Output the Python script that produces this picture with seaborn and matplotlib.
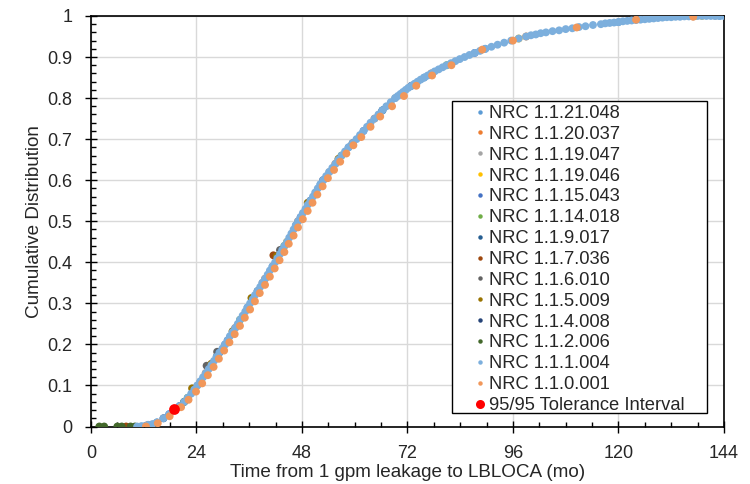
import pandas as pd
import matplotlib.pyplot as plt
import seaborn as sns
from matplotlib.lines import Line2D
from matplotlib.patches import Rectangle
from matplotlib.ticker import MultipleLocator, FuncFormatter

sns.set_theme(style="white")
plt.rcParams['font.family'] = ['Liberation Sans', 'DejaVu Sans']

# --- data (time in months, cumulative fraction) ---
# NRC 1.1.1.004 (light blue, dense, drawn near the top)
x_1_1_1_004 = [10.5, 11.5, 12.5, 13.0, 14.0, 15.0, 16.5, 17.8, 19.0, 20.2, 21.2, 22.0, 22.8, 23.5, 24.2,
               24.9, 25.5, 26.1, 26.8, 27.4, 28.0, 28.6, 29.2, 29.9, 30.5,
               31.1, 31.6, 32.2, 32.8, 33.4, 33.9, 34.5, 35.1, 35.6, 36.2,
               36.8, 37.3, 37.9, 38.5, 39.0, 39.6, 40.2, 40.7, 41.3, 41.9,
               42.4, 43.0, 43.5, 44.0, 44.6, 45.1, 45.6, 46.1, 46.6, 47.1,
               47.7, 48.2, 48.8, 49.3, 49.9, 50.5, 51.0, 51.6, 52.2, 52.8,
               53.5, 54.2, 54.9, 55.6, 56.3, 57.0, 57.8, 58.6, 59.5, 60.4,
               61.2, 62.0, 62.8, 63.6, 64.5, 65.4, 66.3, 67.2, 68.2, 69.2,
               69.8, 70.4, 71.0, 71.6, 72.2, 72.9, 73.6, 74.3, 75.0, 75.8,
               76.6, 77.4, 78.2, 79.1, 80.0, 80.9, 81.9, 82.9, 83.9, 85.0,
               86.1, 87.3, 88.5, 89.7, 91.1, 92.5, 94.0, 95.6, 97.3, 99.0,
               100.1, 101.2, 102.3, 103.5, 105.0, 106.5, 108.0, 109.5, 111.0, 112.5,
               114.2, 116.0, 117.0, 118.0, 119.0, 120.0, 121.0, 122.0, 123.0, 124.0,
               125.0, 126.0, 127.0, 128.0, 129.0, 130.0, 131.0, 132.0, 133.0, 134.0,
               135.0, 136.0, 137.0, 138.0, 139.0, 140.0, 141.0, 142.0, 143.0, 144.0]
y_1_1_1_004 = [0.0, 0.001, 0.002, 0.004, 0.006, 0.01, 0.02, 0.03, 0.04, 0.05, 0.06, 0.07, 0.08, 0.09, 0.10,
               0.11, 0.12, 0.13, 0.14, 0.15, 0.16, 0.17, 0.18, 0.19, 0.20,
               0.21, 0.22, 0.23, 0.24, 0.25, 0.26, 0.27, 0.28, 0.29, 0.30,
               0.31, 0.32, 0.33, 0.34, 0.35, 0.36, 0.37, 0.38, 0.39, 0.40,
               0.41, 0.42, 0.43, 0.44, 0.45, 0.46, 0.47, 0.48, 0.49, 0.50,
               0.51, 0.52, 0.53, 0.54, 0.55, 0.56, 0.57, 0.58, 0.59, 0.60,
               0.61, 0.62, 0.63, 0.64, 0.65, 0.66, 0.67, 0.68, 0.69, 0.70,
               0.71, 0.72, 0.73, 0.74, 0.75, 0.76, 0.77, 0.78, 0.79, 0.80,
               0.805, 0.81, 0.815, 0.82, 0.825, 0.83, 0.835, 0.84, 0.845, 0.85,
               0.855, 0.86, 0.865, 0.87, 0.875, 0.88, 0.885, 0.89, 0.895, 0.90,
               0.905, 0.91, 0.915, 0.92, 0.925, 0.93, 0.935, 0.94, 0.945, 0.95,
               0.953, 0.955, 0.958, 0.96, 0.963, 0.965, 0.968, 0.97, 0.973, 0.975,
               0.978, 0.98, 0.982, 0.983, 0.984, 0.985, 0.987, 0.988, 0.989, 0.99,
               0.991, 0.992, 0.993, 0.994, 0.995, 0.996, 0.997, 0.997, 0.998, 0.998,
               0.999, 0.999, 0.999, 1.0, 1.0, 1.0, 1.0, 1.0, 1.0, 1.0]

# NRC 1.1.0.001 (light orange, drawn last)
x_1_1_0_001 = [12.5, 15.2, 17.9, 20.5, 22.2, 23.9, 25.3, 26.6, 27.9, 29.1, 30.3, 31.5, 32.7, 33.9,
               35.0, 36.2, 37.3, 38.4, 39.6, 40.7, 41.8, 42.9, 44.0, 45.0, 46.1, 47.1, 48.2, 49.3,
               50.4, 51.5, 52.7, 53.9, 55.3, 56.7, 58.1, 59.7, 61.5, 63.6, 65.8, 68.5, 71.2, 74.0,
               77.6, 82.0, 89.0, 96.0, 110.5, 124.0, 137.0]
y_1_1_0_001 = [0.0, 0.008, 0.025, 0.047, 0.065, 0.085, 0.105, 0.125, 0.145, 0.165, 0.185, 0.205, 0.225, 0.245,
               0.265, 0.285, 0.305, 0.325, 0.345, 0.365, 0.385, 0.405, 0.425, 0.445, 0.465, 0.485, 0.505, 0.525,
               0.545, 0.565, 0.585, 0.605, 0.625, 0.645, 0.665, 0.685, 0.705, 0.73, 0.755, 0.78, 0.805, 0.83,
               0.855, 0.88, 0.918, 0.94, 0.972, 0.991, 0.998]

# the other code versions, almost all hidden under the two above
x_1_1_21_048 = [15.0, 21.2, 24.9, 30.5, 35.6, 41.3, 46.6, 52.2, 58.6, 66.3, 75.8, 89.7, 120.0, 143.0]
y_1_1_21_048 = [0.01, 0.06, 0.11, 0.20, 0.29, 0.39, 0.49, 0.59, 0.68, 0.77, 0.85, 0.92, 0.985, 1.0]
x_1_1_20_037 = [13.0, 19.0, 26.1, 32.8, 39.6, 47.1, 55.6, 64.5, 77.4, 99.0]
y_1_1_20_037 = [0.004, 0.04, 0.13, 0.24, 0.36, 0.50, 0.64, 0.75, 0.86, 0.95]
x_1_1_19_047 = [24.2, 39.0, 54.2, 69.2, 142.0]
y_1_1_19_047 = [0.10, 0.35, 0.62, 0.80, 1.0]
x_1_1_19_046 = [44.6, 97.3, 132.0, 136.0, 137.5, 139.0]
y_1_1_19_046 = [0.45, 0.945, 0.999, 1.0, 1.0, 1.0]
x_1_1_15_043 = [17.8, 31.1, 47.7, 62.0, 87.3]
y_1_1_15_043 = [0.03, 0.21, 0.51, 0.72, 0.91]
x_1_1_14_018 = [22.0, 33.9, 44.0, 57.0, 80.9]
y_1_1_14_018 = [0.07, 0.26, 0.44, 0.66, 0.88]
x_1_1_9_017 = [20.2, 28.6, 37.9, 49.9, 66.3]
y_1_1_9_017 = [0.05, 0.17, 0.33, 0.55, 0.77]
x_1_1_7_036 = [8.0, 41.5, 130.0]
y_1_1_7_036 = [0.0, 0.417, 0.998]
x_1_1_6_010 = [26.3, 28.7, 43.0, 59.5]
y_1_1_6_010 = [0.148, 0.182, 0.43, 0.69]
x_1_1_5_009 = [23.0, 27.4, 32.2, 36.5, 42.3, 49.3, 56.3]
y_1_1_5_009 = [0.093, 0.153, 0.232, 0.313, 0.415, 0.545, 0.652]
x_1_1_4_008 = [16.5, 29.2, 52.8, 72.9]
y_1_1_4_008 = [0.02, 0.18, 0.60, 0.83]
x_1_1_2_006 = [1.9, 3.0, 6.0, 7.0, 9.0, 10.0, 21.2, 36.8]
y_1_1_2_006 = [0.0, 0.0, 0.0, 0.0, 0.0, 0.0, 0.06, 0.31]

x_tolerance = [19.0]
y_tolerance = [0.042]

series_names = ['NRC 1.1.21.048', 'NRC 1.1.20.037', 'NRC 1.1.19.047', 'NRC 1.1.19.046',
                'NRC 1.1.15.043', 'NRC 1.1.14.018', 'NRC 1.1.9.017', 'NRC 1.1.7.036',
                'NRC 1.1.6.010', 'NRC 1.1.5.009', 'NRC 1.1.4.008', 'NRC 1.1.2.006',
                'NRC 1.1.1.004', 'NRC 1.1.0.001']
series_x = [x_1_1_21_048, x_1_1_20_037, x_1_1_19_047, x_1_1_19_046, x_1_1_15_043, x_1_1_14_018,
            x_1_1_9_017, x_1_1_7_036, x_1_1_6_010, x_1_1_5_009, x_1_1_4_008, x_1_1_2_006,
            x_1_1_1_004, x_1_1_0_001]
series_y = [y_1_1_21_048, y_1_1_20_037, y_1_1_19_047, y_1_1_19_046, y_1_1_15_043, y_1_1_14_018,
            y_1_1_9_017, y_1_1_7_036, y_1_1_6_010, y_1_1_5_009, y_1_1_4_008, y_1_1_2_006,
            y_1_1_1_004, y_1_1_0_001]
# Excel default palette for 14 series
series_colors = ['#5B9BD5', '#ED7D31', '#A5A5A5', '#FFC000', '#4472C4', '#70AD47',
                 '#255E91', '#9E480E', '#636363', '#997300', '#264478', '#43682B',
                 '#7CAFDD', '#F1975A']

frames = [pd.DataFrame({'t': xs, 'F': ys, 'series': name})
          for name, xs, ys in zip(series_names, series_x, series_y)]
df = pd.concat(frames, ignore_index=True)
palette = dict(zip(series_names, series_colors))

fig, ax = plt.subplots(figsize=(7.5, 4.84), dpi=100)
fig.subplots_adjust(left=0.1213, right=0.9653, bottom=0.1188, top=0.967)

sns.scatterplot(data=df, x='t', y='F', hue='series', hue_order=series_names, palette=palette,
                s=32, linewidth=0, ax=ax, legend=False, zorder=3)
sns.scatterplot(x=x_tolerance, y=y_tolerance, color='#FF0000', s=60, linewidth=0, ax=ax,
                legend=False, zorder=4)

ax.set_xlim(0, 144)
ax.set_ylim(0, 1)
ax.xaxis.set_major_locator(MultipleLocator(24))
ax.xaxis.set_minor_locator(MultipleLocator(6))
ax.yaxis.set_major_locator(MultipleLocator(0.1))
ax.yaxis.set_minor_locator(MultipleLocator(0.02))
ax.yaxis.set_major_formatter(FuncFormatter(lambda v, p: f"{v:.1f}".rstrip('0').rstrip('.') if v else '0'))

ax.grid(True, which='major', color='#D9D9D9', linewidth=1.0)
ax.set_axisbelow(True)
for sp in ax.spines.values():
    sp.set_color('black')
    sp.set_linewidth(1.2)
ax.tick_params(which='major', direction='inout', length=8, width=1.0, color='black',
               labelsize=13, pad=9.5)
ax.tick_params(which='minor', direction='in', length=3.5, width=1.0, color='black')
ax.tick_params(axis='x', which='both', bottom=True)
ax.tick_params(axis='y', which='both', left=True)

ax.set_xlabel('Time from 1 gpm leakage to LBLOCA (mo)', fontsize=13.6, labelpad=1)
ax.set_ylabel('Cumulative Distribution', fontsize=13.6, labelpad=3)

# legend frame drawn as its own box (Excel pads it wider than matplotlib does)
ax.add_patch(Rectangle((0.570, 0.033), 0.403, 0.760, transform=ax.transAxes,
                       facecolor='white', edgecolor='black', linewidth=1.0, zorder=5))
handles = [Line2D([], [], marker='o', linestyle='', markersize=3.2, color=c, markeredgewidth=0)
           for c in series_colors]
handles.append(Line2D([], [], marker='o', linestyle='', markersize=6.5, color='#FF0000', markeredgewidth=0))
labels = series_names + ['95/95 Tolerance Interval']
leg = ax.legend(handles, labels, loc='upper left', bbox_to_anchor=(0.606, 0.783),
                fontsize=13.2, frameon=False, borderpad=0, labelspacing=0.21,
                handletextpad=0.19, handlelength=0.6, borderaxespad=0)
leg.set_zorder(6)

plt.savefig('out.png', dpi=100)
